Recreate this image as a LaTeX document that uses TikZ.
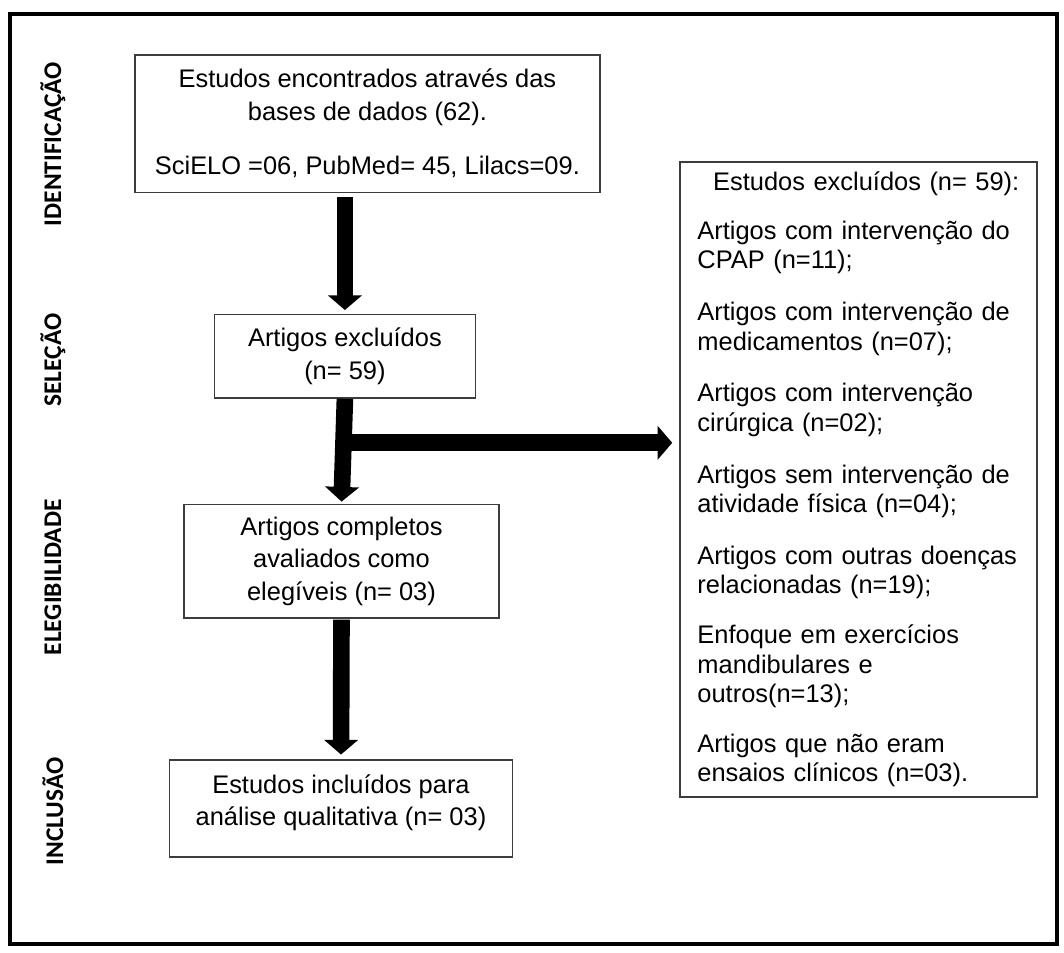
\documentclass[tikz,border=0pt]{standalone}
\usepackage{fontspec}
\setmainfont{Liberation Sans}
\newfontfamily\phasefont{Carlito}
\usetikzlibrary{arrows.meta, positioning, calc}
\definecolor{boxgray}{RGB}{60,60,60}

\tikzset{
  stagebox/.style={draw=boxgray, line width=1.5pt, align=center, inner sep=0pt,
                   font=\fontsize{26}{33}\selectfont},
  listbox/.style={draw=boxgray, line width=1.5pt, align=left, inner xsep=18pt,
                  font=\fontsize{26}{30}\selectfont},
  blockarrow/.style={line width=17pt, -{Triangle[width=34pt,length=15pt]}},
  phase/.style={rotate=90, font=\phasefont\bfseries\fontsize{26}{26}\selectfont}
}

\begin{document}
\begin{tikzpicture}[x=1pt, y=-0.9687pt]
  \useasboundingbox (0,0) rectangle (1087.4,1004.4);
  % frame
  \draw[line width=4.5pt] (10,15) rectangle (1080,996);

  % phases
  \node[phase] (ident) at (54,152) {IDENTIFICAÇÃO};
  \node[phase] (selec) at (54,380) {SELEÇÃO};
  \node[phase] (elegi) at (54,609) {ELEGIBILIDADE};
  \node[phase] (inclu) at (54,856) {INCLUSÃO};

  % flow
  \node[stagebox, minimum width=475pt, minimum height=140.5pt] (found) at (375.5,130.5)
    {Estudos encontrados através das\\bases de dados (62).\\[23pt]
     SciELO =06, PubMed= 45, Lilacs=09.};
  \node[stagebox, minimum width=267pt, minimum height=85.2pt] (screened) at (352.5,376)
    {Artigos excluídos\\(n= 59)};
  \node[stagebox, minimum width=322pt, minimum height=116.2pt] (eligible) at (349,592)
    {Artigos completos\\avaliados como\\elegíveis (n= 03)};
  \node[stagebox, minimum width=351pt, minimum height=98.8pt] (included) at (348.5,853)
    {Estudos incluídos para\\análise qualitativa (n= 03)\\[-16pt]\mbox{}};

  \node[listbox, text width=329pt, minimum height=649pt, anchor=north west] (excluded) at (694,170)
    {\hspace*{\fill}Estudos excluídos (n= 59):\hspace*{\fill}\\[20pt]
     Artigos com intervenção do\\CPAP (n=11);\\[23pt]
     Artigos com intervenção de\\medicamentos (n=07);\\[23pt]
     Artigos com intervenção\\cirúrgica (n=02);\\[23pt]
     Artigos sem intervenção de\\atividade física (n=04);\\[23pt]
     Artigos com outras doenças\\relacionadas (n=19);\\[21pt]
     Enfoque em exercícios\\mandibulares e\\outros(n=13);\\[21pt]
     Artigos que não eram\\ensaios clínicos (n=03).};

  % arrows
  \coordinate (branch) at ($(screened.south)!0.42!(eligible.north)$);
  \draw[blockarrow, shorten <=4pt, shorten >=4pt] (found.south -| screened.south) -- (screened.north);
  \draw[blockarrow, shorten >=2pt] (screened.south) -- (eligible.north);
  \draw[blockarrow, shorten >=7pt] (branch) -- (branch -| excluded.west);
  \draw[blockarrow, shorten <=1pt, shorten >=5pt] (eligible.south) -- (included.north);
\end{tikzpicture}
\end{document}
